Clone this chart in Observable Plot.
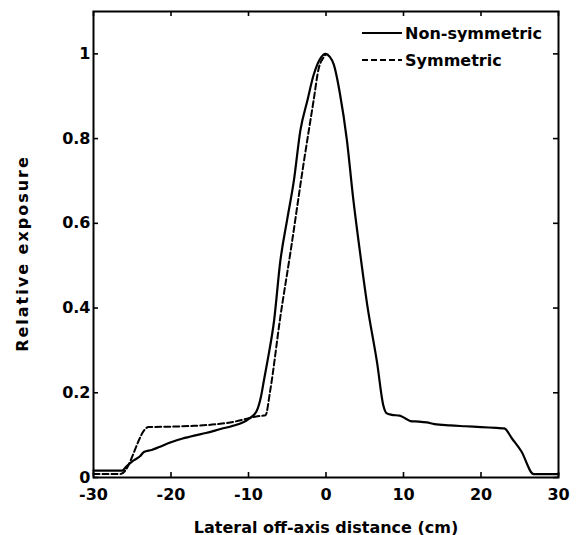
<!DOCTYPE html>
<html>
<head>
<meta charset="utf-8">
<script src="https://cdn.jsdelivr.net/npm/d3@7"></script>
<script src="https://cdn.jsdelivr.net/npm/@observablehq/plot@0.6"></script>
<style>
  html, body { margin: 0; padding: 0; background: #fff; }
  #wrap { position: relative; width: 579px; height: 535px; }
  #wrap svg text { font-family: "DejaVu Sans", "Liberation Sans", Arial, sans-serif; font-weight: bold; }
  #wrap svg [aria-label$="tick label"] text { font-size: 16px !important; }
  #wrap svg [aria-label$="axis label"] text { font-size: 16px !important; }
  #wrap svg [aria-label="y-axis label"] text { letter-spacing: 2px; }
  #legend { position: absolute; left: 0; top: 0; pointer-events: none; }
</style>
</head>
<body>
<div id="wrap"></div>
<script>
// Lateral exposure profiles (distance in cm, exposure relative to peak)
const nonSymX = [-30, -26.3, -25.8, -25, -24, -23.5, -22.5, -21.5, -20, -18.5, -17, -15.5, -13.5, -12, -10,
  -9, -8.4, -8, -7.5, -6.7, -5.9, -5, -4.15, -3.3, -2.4, -1.6, -0.7, -0.1, 0.5, 1.0, 1.8, 2.7, 3.5, 4.4,
  5.3, 6.6, 7.4, 7.8, 8.5, 9.5, 10.2, 10.9, 12, 13, 14, 16, 18, 20, 22, 23, 24, 25.2, 26.8, 30];
const nonSymY = [0.016, 0.016, 0.025, 0.038, 0.05, 0.06, 0.065, 0.072, 0.083, 0.092, 0.099, 0.105, 0.115, 0.122, 0.138,
  0.155, 0.19, 0.23, 0.28, 0.37, 0.51, 0.61, 0.70, 0.82, 0.89, 0.95, 0.99, 1.0, 0.993, 0.975, 0.906, 0.796, 0.66, 0.53,
  0.41, 0.27, 0.17, 0.152, 0.148, 0.146, 0.14, 0.133, 0.132, 0.130, 0.126, 0.123, 0.121, 0.119, 0.117, 0.116, 0.092, 0.062, 0.008, 0.008];

const symX = [-30, -26.5, -22.9, -20, -17, -14, -12, -10.2, -9, -7.8, -7.2, -5.9, -4.6, -2.9, -1.6, -0.95, -0.3, 0];
const symY = [0.008, 0.008, 0.119, 0.12, 0.122, 0.126, 0.131, 0.139, 0.144, 0.147, 0.205, 0.378, 0.53, 0.74, 0.89, 0.965, 0.992, 1.0];

const xTicks = [-30, -20, -10, 0, 10, 20, 30];
const yTicks = [0, 0.2, 0.4, 0.6, 0.8, 1];
const seriesNames = ["Non-symmetric", "Symmetric"];

const nonSym = nonSymX.map((x, i) => ({x, y: nonSymY[i]}));
const sym = symX.map((x, i) => ({x, y: symY[i]}));

const W = 579, H = 535;
const M = {left: 93, right: 21, top: 11, bottom: 58};
const innerW = W - M.left - M.right;
const innerH = H - M.top - M.bottom;
const tickLen = 5;

// plain hyphen-minus tick labels
const fmt = d => String(d);
const tick = {stroke: "#000", strokeWidth: 1.6};

const chart = Plot.plot({
  width: W,
  height: H,
  marginLeft: M.left,
  marginRight: M.right,
  marginTop: M.top,
  marginBottom: M.bottom,
  style: {background: "#fff", color: "#000"},
  x: {domain: [-30, 30]},
  y: {domain: [0, 1.1]},
  marks: [
    // tick labels and axis titles
    Plot.axisX(xTicks, {anchor: "bottom", tickSize: 0, tickPadding: 11, tickFormat: fmt,
      label: "Lateral off-axis distance (cm)", labelAnchor: "center", labelArrow: "none", labelOffset: 55}),
    Plot.axisY(yTicks, {anchor: "left", tickSize: 0, tickPadding: 3, tickFormat: fmt,
      label: "Relative exposure", labelAnchor: "center", labelArrow: "none", labelOffset: 77}),
    // inward tick marks on all four sides
    Plot.ruleX(xTicks, {x: d => d, ...tick, insetTop: innerH - tickLen}),
    Plot.ruleX(xTicks, {x: d => d, ...tick, insetBottom: innerH - tickLen}),
    Plot.ruleY(yTicks, {y: d => d, ...tick, insetRight: innerW - tickLen}),
    Plot.ruleY(yTicks, {y: d => d, ...tick, insetLeft: innerW - tickLen}),
    Plot.frame({stroke: "#000", strokeWidth: 2}),
    Plot.line(sym, {x: "x", y: "y", stroke: "#000", strokeWidth: 2, strokeDasharray: "6,3", curve: "monotone-x"}),
    Plot.line(nonSym, {x: "x", y: "y", stroke: "#000", strokeWidth: 2.2, curve: "monotone-x"})
  ]
});

// nudge the rotated y title slightly downward along its baseline
d3.select(chart).selectAll("[aria-label='y-axis label'] text").attr("dx", -9);

const wrap = document.getElementById("wrap");
wrap.appendChild(chart);

// Legend in the upper-right corner of the plot area
const legend = d3.select(wrap).append("svg")
  .attr("id", "legend")
  .attr("width", W).attr("height", 80);
seriesNames.forEach((name, i) => {
  const y = 33 + i * 27;
  legend.append("line")
    .attr("x1", 362).attr("x2", 402).attr("y1", y).attr("y2", y)
    .attr("stroke", "#000").attr("stroke-width", 2)
    .attr("stroke-dasharray", i === 0 ? null : "6,3");
  legend.append("text")
    .attr("x", 405).attr("y", y + 6)
    .attr("font-size", 16)
    .text(name);
});
</script>
</body>
</html>
